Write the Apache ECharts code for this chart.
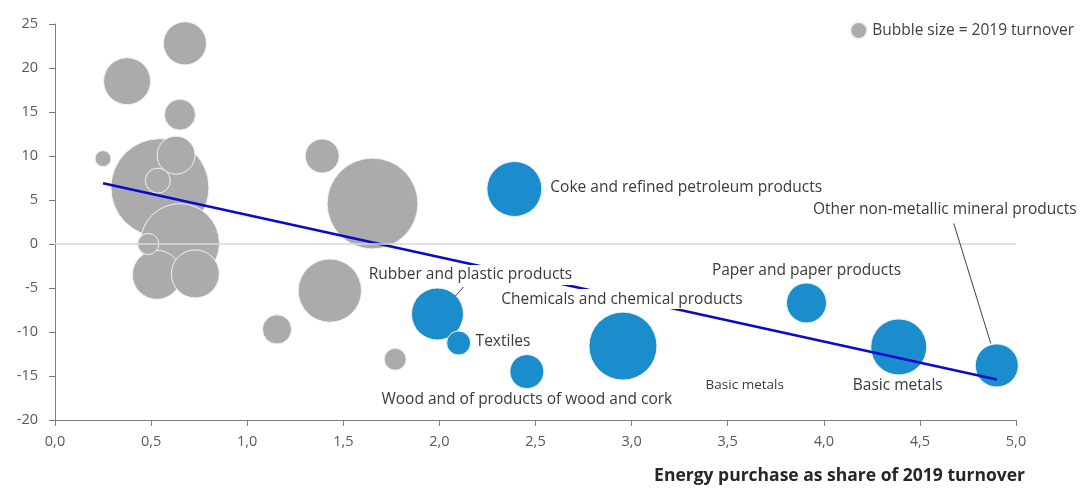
<!DOCTYPE html>
<html><head><meta charset="utf-8">
<script src="https://cdn.jsdelivr.net/npm/echarts@6/dist/echarts.min.js"></script>
<style>html,body{margin:0;padding:0;background:#fff}#c{width:1082px;height:491px}</style>
</head><body><div id="c"></div>
<script>
// ---- data ----
const greyX = [0.375, 0.676, 0.65, 0.25, 0.546, 0.63, 0.535, 0.65, 0.485, 0.53, 0.73, 1.155, 1.43, 1.39, 1.652, 1.77];
const greyY = [18.5, 22.8, 14.7, 9.7, 6.4, 10.1, 7.2, 0.1, 0.0, -3.5, -3.4, -9.7, -5.3, 10.0, 4.6, -13.1];
const greyTurnover = [138, 116, 60, 16, 600, 90, 39, 390, 28, 150, 144, 53, 250, 72, 515, 30];

const blueNames = ['Coke and refined petroleum products', 'Rubber and plastic products', 'Textiles',
  'Wood and of products of wood and cork', 'Chemicals and chemical products', 'Paper and paper products',
  'Basic metals', 'Other non-metallic mineral products'];
const blueX = [2.39, 1.99, 2.10, 2.455, 2.955, 3.91, 4.39, 4.90];
const blueY = [6.25, -7.95, -11.25, -14.5, -11.6, -6.7, -11.7, -13.8];
const blueTurnover = [189, 169, 36, 72, 289, 100, 196, 116];

const trendX = [0.25, 4.9];
const trendY = [6.9, -15.4];

const xTicks = { min: 0, max: 5, interval: 0.5 };
const yTicks = { min: -20, max: 25, interval: 5 };
const legendText = 'Bubble size = 2019 turnover';
const xTitle = 'Energy purchase as share of 2019 turnover';

// ---- label layout (pixel offsets from bubble centre; styling only) ----
const labelLayout = [
  { item: 0, dx: 34, dy: -1, align: 'left' },
  { item: 1, dx: 33, dy: -39, align: 'center', leader: [26, -27, 18, -18] },
  { item: 2, dx: 15, dy: -1, align: 'left' },
  { item: 3, dx: 0, dy: 28, align: 'center' },
  { item: 4, dx: -1, dy: -47, align: 'center' },
  { item: 5, dx: 0, dy: -32, align: 'center' },
  { item: 6, dx: -1, dy: 39, align: 'center' },
  { item: 6, dx: -154, dy: 38, align: 'center', small: true },
  { item: 7, dx: -52, dy: -156, align: 'center', leader: [-43, -142, -6, -22] }
];

const FONT = '"Open Sans", "Noto Sans", sans-serif';
const sizeOf = t => Math.sqrt(t) * 4;

const greyData = greyX.map((x, i) => [x, greyY[i], greyTurnover[i]])
  .sort((a, b) => b[2] - a[2]);
const blueData = blueX.map((x, i) => [x, blueY[i], blueTurnover[i], blueNames[i]]);
const labelData = labelLayout.map((l, k) => [blueX[l.item], blueY[l.item], k]);

const chart = echarts.init(document.getElementById('c'));
chart.setOption({
  animation: false,
  grid: { left: 55, right: 66, top: 24, bottom: 71 },
  legend: {
    data: [legendText], right: 3, top: 16, icon: 'circle', itemWidth: 17, itemHeight: 17, itemGap: 5,
    selectedMode: false, textStyle: { fontFamily: FONT, fontSize: 15.5, color: '#404040' }
  },
  xAxis: {
    type: 'value', min: xTicks.min, max: xTicks.max, interval: xTicks.interval,
    axisLine: { onZero: false, lineStyle: { color: '#7f7f7f', width: 1 } },
    axisTick: { show: true, length: 6, lineStyle: { color: '#7f7f7f' } },
    splitLine: { show: false },
    axisLabel: { fontFamily: FONT, fontSize: 14.5, color: '#595959', margin: 14,
      formatter: v => v.toFixed(1).replace('.', ',') }
  },
  yAxis: {
    type: 'value', min: yTicks.min, max: yTicks.max, interval: yTicks.interval,
    axisLine: { show: true, lineStyle: { color: '#7f7f7f', width: 1 } },
    axisTick: { show: true, length: 6, lineStyle: { color: '#7f7f7f' } },
    splitLine: { show: false },
    axisLabel: { fontFamily: FONT, fontSize: 14.5, color: '#595959', margin: 17 }
  },
  graphic: [{
    type: 'text', right: 57, top: 467,
    style: { text: xTitle, font: 'bold 17.5px ' + FONT, fill: '#262626' }
  }],
  series: [
    {
      name: legendText, type: 'scatter', z: 2, data: greyData,
      symbolSize: v => sizeOf(v[2]),
      itemStyle: { color: '#ababab', opacity: 1, borderColor: '#f2f2f2', borderWidth: 1 },
      markLine: {
        silent: true, symbol: 'none', label: { show: false },
        lineStyle: { color: '#d9d9d9', width: 1.5, type: 'solid' },
        data: [{ yAxis: 0 }]
      }
    },
    {
      name: 'sectors', type: 'scatter', z: 3, data: blueData,
      symbolSize: v => sizeOf(v[2]),
      itemStyle: { color: '#1b8dcd', opacity: 1, borderColor: '#e8f4fb', borderWidth: 1 }
    },
    {
      name: 'trend', type: 'line', z: 4, data: trendX.map((x, i) => [x, trendY[i]]),
      showSymbol: false, symbol: 'none',
      lineStyle: { color: '#0a0acc', width: 2.5 }
    },
    {
      name: 'labels', type: 'custom', z: 5, data: labelData, encode: { x: 0, y: 1 }, clip: false,
      renderItem: (params, api) => {
        const c = api.coord([api.value(0), api.value(1)]);
        const l = labelLayout[api.value(2)];
        const children = [];
        if (l.leader) {
          children.push({ type: 'line', shape: { x1: c[0] + l.leader[0], y1: c[1] + l.leader[1], x2: c[0] + l.leader[2], y2: c[1] + l.leader[3] },
            style: { stroke: '#404040', lineWidth: 1 } });
        }
        children.push({
          type: 'text', x: c[0] + l.dx, y: c[1] + l.dy,
          style: { text: blueNames[l.item], font: (l.small ? '13.5px ' : '15.5px ') + FONT, fill: '#3a3a3a',
            align: l.align, verticalAlign: 'middle', backgroundColor: l.small ? null : '#ffffff', padding: [2, 2] }
        });
        return { type: 'group', children };
      }
    }
  ]
});
</script></body></html>
